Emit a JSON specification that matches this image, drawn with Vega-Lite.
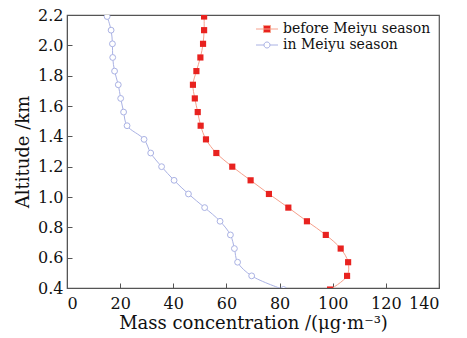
{
  "$schema": "https://vega.github.io/schema/vega-lite/v6.json",
  "width": 372,
  "height": 273,
  "autosize": "none",
  "padding": {"left": 67, "top": 15, "right": 28, "bottom": 50},
  "background": "white",
  "config": {
    "view": {"stroke": "#555", "strokeWidth": 1.2},
    "axis": {
      "domainColor": "#555",
      "tickColor": "#555",
      "grid": false,
      "labelFont": "DejaVu Serif",
      "labelFontSize": 16,
      "labelColor": "#111",
      "titleFont": "DejaVu Serif",
      "titleFontSize": 18,
      "titleFontWeight": "normal",
      "titleColor": "#111",
      "tickSize": -5
    },
    "legend": {
      "labelFont": "DejaVu Serif",
      "labelFontSize": 14,
      "labelColor": "#111"
    }
  },
  "data": {
    "values": [
      {"series": "before Meiyu season", "alt": 2.19, "conc": 51.6},
      {"series": "before Meiyu season", "alt": 2.10, "conc": 51.6},
      {"series": "before Meiyu season", "alt": 2.01, "conc": 51.2},
      {"series": "before Meiyu season", "alt": 1.92, "conc": 50.2},
      {"series": "before Meiyu season", "alt": 1.83, "conc": 48.7},
      {"series": "before Meiyu season", "alt": 1.74, "conc": 47.4},
      {"series": "before Meiyu season", "alt": 1.65, "conc": 48.1},
      {"series": "before Meiyu season", "alt": 1.56, "conc": 49.2},
      {"series": "before Meiyu season", "alt": 1.47, "conc": 50.3},
      {"series": "before Meiyu season", "alt": 1.38, "conc": 52.3},
      {"series": "before Meiyu season", "alt": 1.29, "conc": 56.2},
      {"series": "before Meiyu season", "alt": 1.20, "conc": 62.2},
      {"series": "before Meiyu season", "alt": 1.11, "conc": 69.1},
      {"series": "before Meiyu season", "alt": 1.02, "conc": 76.0},
      {"series": "before Meiyu season", "alt": 0.93, "conc": 83.3},
      {"series": "before Meiyu season", "alt": 0.84, "conc": 90.3},
      {"series": "before Meiyu season", "alt": 0.75, "conc": 97.4},
      {"series": "before Meiyu season", "alt": 0.66, "conc": 103.0},
      {"series": "before Meiyu season", "alt": 0.57, "conc": 105.8},
      {"series": "before Meiyu season", "alt": 0.48, "conc": 105.4},
      {"series": "before Meiyu season", "alt": 0.39, "conc": 99.0},
      {"series": "in Meiyu season", "alt": 2.19, "conc": 15.1},
      {"series": "in Meiyu season", "alt": 2.10, "conc": 16.6},
      {"series": "in Meiyu season", "alt": 2.01, "conc": 17.1},
      {"series": "in Meiyu season", "alt": 1.92, "conc": 17.2},
      {"series": "in Meiyu season", "alt": 1.83, "conc": 17.9},
      {"series": "in Meiyu season", "alt": 1.74, "conc": 19.3},
      {"series": "in Meiyu season", "alt": 1.65, "conc": 20.2},
      {"series": "in Meiyu season", "alt": 1.56, "conc": 21.3},
      {"series": "in Meiyu season", "alt": 1.47, "conc": 22.6},
      {"series": "in Meiyu season", "alt": 1.38, "conc": 29.0},
      {"series": "in Meiyu season", "alt": 1.29, "conc": 31.5},
      {"series": "in Meiyu season", "alt": 1.20, "conc": 35.6},
      {"series": "in Meiyu season", "alt": 1.11, "conc": 40.3},
      {"series": "in Meiyu season", "alt": 1.02, "conc": 45.7},
      {"series": "in Meiyu season", "alt": 0.93, "conc": 51.8},
      {"series": "in Meiyu season", "alt": 0.84, "conc": 57.6},
      {"series": "in Meiyu season", "alt": 0.75, "conc": 61.5},
      {"series": "in Meiyu season", "alt": 0.66, "conc": 63.0},
      {"series": "in Meiyu season", "alt": 0.57, "conc": 64.2},
      {"series": "in Meiyu season", "alt": 0.48, "conc": 69.5},
      {"series": "in Meiyu season", "alt": 0.39, "conc": 81.5}
    ]
  },
  "encoding": {
    "x": {
      "field": "conc", "type": "quantitative",
      "scale": {"domain": [0, 140], "nice": false},
      "axis": {"values": [0, 20, 40, 60, 80, 100, 120, 140], "title": "Mass concentration /(μg·m⁻³)", "labelPadding": 12, "titlePadding": 3}
    },
    "y": {
      "field": "alt", "type": "quantitative",
      "scale": {"domain": [0.4, 2.2], "nice": false, "zero": false},
      "axis": {"values": [0.4, 0.6, 0.8, 1.0, 1.2, 1.4, 1.6, 1.8, 2.0, 2.2], "format": ".1f", "title": "Altitude /km", "labelPadding": 9, "titlePadding": 5}
    }
  },
  "layer": [
    {
      "mark": {"type": "line", "clip": true, "strokeWidth": 1, "interpolate": "catmull-rom"},
      "encoding": {
        "color": {
          "field": "series", "type": "nominal",
          "scale": {"domain": ["before Meiyu season", "in Meiyu season"], "range": ["#f6a08c", "#aab2e4"]},
          "legend": {
            "title": null,
            "orient": "none",
            "legendX": 193,
            "legendY": 7,
            "padding": 0,
            "symbolSize": 121,
            "labelOffset": 9,
            "rowPadding": 2,
            "encode": {
              "symbols": {
                "update": {
                  "shape": {"signal": "datum.value == 'before Meiyu season' ? 'M-2,0H2M-0.64,-0.64H0.64V0.64H-0.64Z' : 'M-2,0H-0.55M0.55,0H2M0.55,0A0.55,0.55,0,1,1,-0.55,0A0.55,0.55,0,1,1,0.55,0'"},
                  "fill": {"signal": "datum.value == 'before Meiyu season' ? '#e8221f' : '#ffffff'"},
                  "stroke": {"signal": "datum.value == 'before Meiyu season' ? '#f6a08c' : '#aab2e4'"},
                  "strokeWidth": {"value": 1},
                  "opacity": {"value": 1}
                }
              }
            }
          }
        },
        "order": {"field": "alt", "type": "quantitative"}
      }
    },
    {
      "transform": [{"filter": "datum.series == 'before Meiyu season'"}],
      "mark": {"type": "square", "clip": true, "filled": true, "size": 38, "color": "#e8221f", "opacity": 1}
    },
    {
      "transform": [{"filter": "datum.series == 'in Meiyu season'"}],
      "mark": {"type": "circle", "clip": true, "filled": true, "size": 34, "fill": "#ffffff", "stroke": "#aab2e4", "strokeWidth": 1, "opacity": 1}
    }
  ]
}
